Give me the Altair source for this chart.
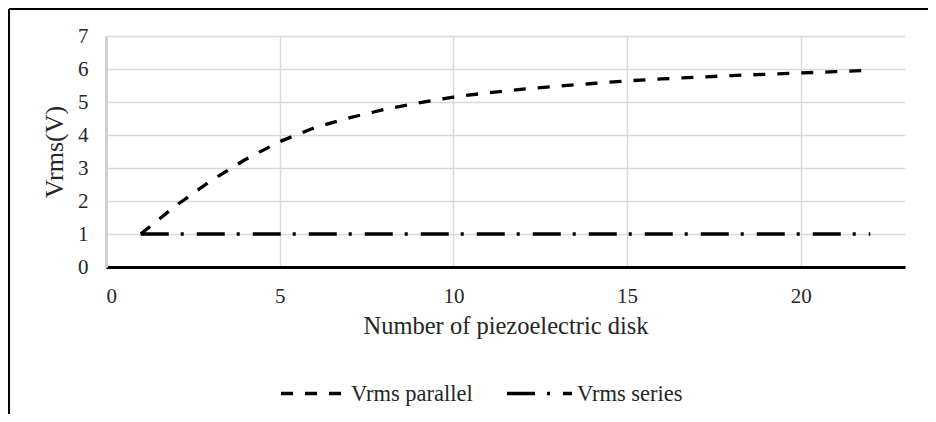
import altair as alt
import pandas as pd

# Data
disks = list(range(1, 23))
vrms_parallel = [1.0, 1.85, 2.6, 3.25, 3.8, 4.22, 4.52, 4.77, 4.97, 5.15, 5.28, 5.39,
                 5.48, 5.56, 5.64, 5.7, 5.75, 5.8, 5.84, 5.88, 5.92, 5.96]
vrms_series = [1.0] * 22
series_names = ["Vrms parallel", "Vrms series"]
x_ticks = [0, 5, 10, 15, 20]
y_ticks = [0, 1, 2, 3, 4, 5, 6, 7]

rows = []
for d, p, s in zip(disks, vrms_parallel, vrms_series):
    rows.append({"n": d, "v": p, "series": series_names[0]})
    rows.append({"n": d, "v": s, "series": series_names[1]})
df = pd.DataFrame(rows)

FONT = "Liberation Serif"
TXT = "#262626"

lines = alt.Chart(df).mark_line(strokeWidth=3.3, color="black", strokeCap="butt").encode(
    x=alt.X("n:Q", scale=alt.Scale(domain=[0, 23], nice=False, zero=True),
            axis=alt.Axis(values=x_ticks, title="Number of piezoelectric disk",
                          grid=True, gridColor="#d9d9d9", gridWidth=1.5,
                          domainColor="black", domainWidth=3, ticks=False,
                          labelFont=FONT, labelFontSize=21, labelColor=TXT,
                          labelPadding=18, titleFont=FONT, titleFontSize=24.5,
                          titleFontWeight="normal", titleColor=TXT, titlePadding=8)),
    y=alt.Y("v:Q", scale=alt.Scale(domain=[0, 7], nice=False),
            axis=alt.Axis(values=y_ticks, title="Vrms(V)", grid=True,
                          gridColor="#d9d9d9", gridWidth=1.5,
                          domainColor="#d0d0d0", domainWidth=3, ticks=False,
                          labelFont=FONT, labelFontSize=21, labelColor=TXT,
                          labelPadding=18, titleFont=FONT, titleFontSize=26,
                          titleFontWeight="normal", titleColor=TXT, titlePadding=10)),
    strokeDash=alt.StrokeDash("series:N",
                              scale=alt.Scale(domain=series_names,
                                              range=[[12, 12], [28, 12, 3, 13]]),
                              legend=alt.Legend(title=None, orient="none", direction="horizontal",
                                                legendX=173, legendY=323,
                                                symbolType="stroke", symbolSize=4225,
                                                symbolStrokeWidth=3.3, symbolStrokeColor="black",
                                                labelFont=FONT, labelFontSize=22.5,
                                                labelColor=TXT, labelOffset=3,
                                                columnPadding=27)),
    detail="series:N",
)

frame_df = pd.DataFrame({"k": [0]})
left_border = alt.Chart(frame_df).mark_rule(color="black", strokeWidth=2).encode(
    x=alt.value(-97), y=alt.value(-27), y2=alt.value(420))
top_border = alt.Chart(frame_df).mark_rule(color="black", strokeWidth=2).encode(
    x=alt.value(-97), x2=alt.value(900), y=alt.value(-27))

chart = alt.layer(lines, left_border, top_border).properties(
    width=799, height=231,
    autosize=alt.AutoSizeParams(type="none"),
    padding={"left": 98, "top": 28, "right": 23, "bottom": 147},
).configure_view(stroke=None)

chart.save("out.html", embed_options={"renderer": "svg", "actions": False})
